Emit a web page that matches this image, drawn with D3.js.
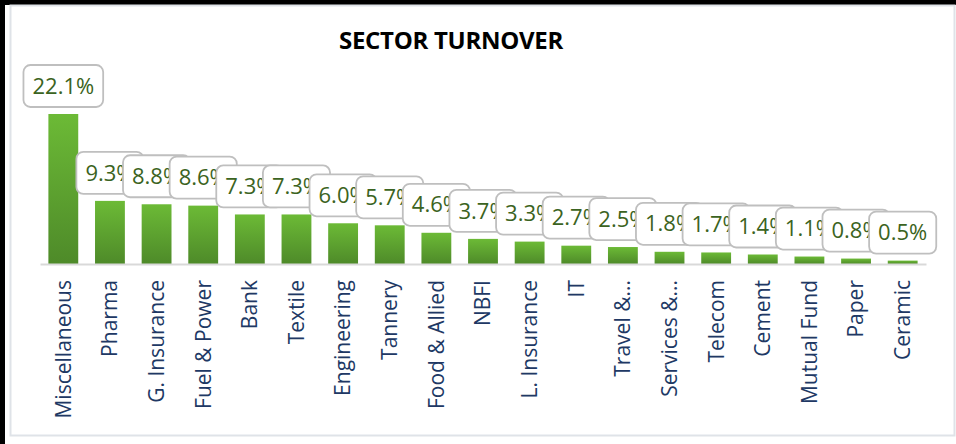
<!DOCTYPE html>
<html>
<head>
<meta charset="utf-8">
<script src="https://cdn.jsdelivr.net/npm/d3@7"></script>
<style>
  body { margin: 0; background: #fff; }
  svg { display: block; }
</style>
</head>
<body>
<div id="chart"></div>
<script>
// Datos del gráfico
var sectors = ["Miscellaneous", "Pharma", "G. Insurance", "Fuel & Power", "Bank", "Textile",
  "Engineering", "Tannery", "Food & Allied", "NBFI", "L. Insurance", "IT", "Travel &...",
  "Services &...", "Telecom", "Cement", "Mutual Fund", "Paper", "Ceramic"];
var turnover = [22.1, 9.3, 8.8, 8.6, 7.3, 7.3, 6.0, 5.7, 4.6, 3.7, 3.3, 2.7, 2.5, 1.8, 1.7, 1.4, 1.1, 0.8, 0.5];
var valueLabels = ["22.1%", "9.3%", "8.8%", "8.6%", "7.3%", "7.3%", "6.0%", "5.7%", "4.6%", "3.7%",
  "3.3%", "2.7%", "2.5%", "1.8%", "1.7%", "1.4%", "1.1%", "0.8%", "0.5%"];
var title = "SECTOR TURNOVER";

var W = 956, H = 444;
var baseY = 264;

var svg = d3.select("#chart").append("svg")
    .attr("width", W)
    .attr("height", H);

// Marco exterior
svg.append("rect").attr("x", 0).attr("y", 0).attr("width", W).attr("height", 5).attr("fill", "#000");
svg.append("rect").attr("x", 0).attr("y", 0).attr("width", 5).attr("height", H).attr("fill", "#000");
svg.append("rect")
    .attr("x", 10.5).attr("y", 5.5)
    .attr("width", 944).attr("height", 430)
    .attr("fill", "#fff")
    .attr("stroke", "#dfe3e8")
    .attr("stroke-width", 2);

// Degradado de las barras
var grad = svg.append("defs").append("linearGradient")
    .attr("id", "barGrad").attr("x1", 0).attr("y1", 0).attr("x2", 0).attr("y2", 1);
grad.append("stop").attr("offset", "0%").attr("stop-color", "#6cba36");
grad.append("stop").attr("offset", "100%").attr("stop-color", "#4e8a29");

var x = d3.scaleBand().domain(sectors).range([40, 926]).paddingInner(0.36).paddingOuter(0.18);
var y = d3.scaleLinear().domain([0, 22.1]).range([baseY, 114]);

// Título
svg.append("text")
    .attr("x", 451).attr("y", 49)
    .attr("text-anchor", "middle")
    .style("font-family", '"Open Sans", sans-serif')
    .style("font-weight", "bold")
    .style("font-size", "24px")
    .style("letter-spacing", "-0.3px")
    .attr("fill", "#000")
    .text(title);

// Barras
svg.selectAll(".bar")
  .data(sectors)
  .enter().append("rect")
    .attr("class", "bar")
    .attr("x", function(d) { return x(d); })
    .attr("y", function(d, i) { return y(turnover[i]); })
    .attr("width", x.bandwidth())
    .attr("height", function(d, i) { return baseY - y(turnover[i]); })
    .attr("fill", "url(#barGrad)");

// Eje X
var xAxis = svg.append("g")
    .attr("transform", "translate(0," + baseY + ")")
    .call(d3.axisBottom(x).tickSize(0).tickSizeOuter(0));
xAxis.select(".domain").attr("stroke", "#d9d9d9").attr("stroke-width", 2);
xAxis.selectAll("text")
    .attr("transform", "rotate(-90)")
    .attr("text-anchor", "end")
    .attr("x", -16)
    .attr("y", 0)
    .attr("dy", "0.35em")
    .style("font-family", '"Open Sans", sans-serif')
    .style("font-size", "21px")
    .attr("fill", "#203864");

// Etiquetas de valor
var lab = svg.selectAll(".lab")
  .data(sectors)
  .enter().append("g")
    .attr("class", "lab")
    .attr("transform", function(d, i) {
      return "translate(" + (x(d) + x.bandwidth() / 2) + "," + (y(turnover[i]) - 28) + ")";
    });

lab.append("rect").attr("class", "box");
lab.append("text")
    .attr("text-anchor", "middle")
    .attr("dy", "0.35em")
    .style("font-family", '"Open Sans", sans-serif')
    .style("font-size", "22px")
    .attr("fill", "#3b6321")
    .text(function(d, i) { return valueLabels[i]; });

lab.each(function() {
  var g = d3.select(this);
  var w = g.select("text").node().getComputedTextLength() + 18;
  g.select("rect")
    .attr("x", -w / 2).attr("y", -21)
    .attr("width", w).attr("height", 42)
    .attr("rx", 7)
    .attr("fill", "#fff")
    .attr("stroke", "#bfbfbf")
    .attr("stroke-width", 1.8);
});
</script>
</body>
</html>
